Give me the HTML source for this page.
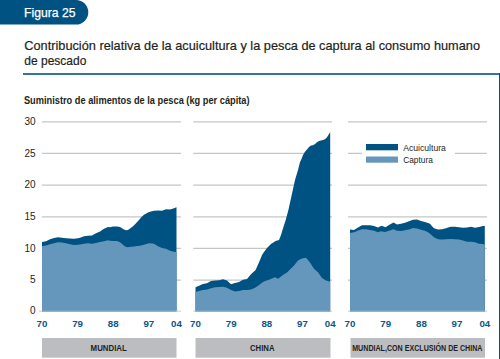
<!DOCTYPE html>
<html><head><meta charset="utf-8">
<style>
html,body{margin:0;padding:0;background:#fff;}
body{width:500px;height:359px;overflow:hidden;position:relative;font-family:"Liberation Sans",sans-serif;}
svg{position:absolute;left:0;top:0;}
.yl{font-size:10px;fill:#231f20;}
.xl{font-size:9.9px;font-weight:bold;fill:#0b5688;}
.bl{font-size:8.8px;font-weight:bold;fill:#231f20;}
.lg{font-size:9px;fill:#231f20;}
.t1{font-size:12.6px;fill:#231f20;stroke:#231f20;stroke-width:0.2px;}
.st{font-size:10px;font-weight:bold;fill:#231f20;}
.fig{font-size:12.1px;fill:#fff;stroke:#fff;stroke-width:0.25px;}
</style></head><body>
<svg width="500" height="359" viewBox="0 0 500 359">
<path d="M0,0 H76 A12.3,12.3 0 0 1 88.3,12.3 A12.3,12.3 0 0 1 76,24.6 H0 Z" fill="#005282"/>
<text x="24.1" y="16.5" class="fig" textLength="51.4" lengthAdjust="spacingAndGlyphs">Figura 25</text>
<text x="24.3" y="49.8" class="t1" textLength="455.7" lengthAdjust="spacingAndGlyphs">Contribución relativa de la acuicultura y la pesca de captura al consumo humano</text>
<text x="24.3" y="65.4" class="t1" textLength="62" lengthAdjust="spacingAndGlyphs">de pescado</text>
<rect x="23" y="73" width="477" height="2" fill="#34769e"/>
<rect x="499" y="73" width="1" height="286" fill="#005282"/>
<text x="23.9" y="103.6" class="st" textLength="225.7" lengthAdjust="spacingAndGlyphs">Suministro de alimentos de la pesca (kg per cápita)</text>
<line x1="42.0" y1="280.2" x2="181.0" y2="280.2" stroke="#c6c6c6" stroke-width="1.2"/>
<line x1="42.0" y1="248.4" x2="181.0" y2="248.4" stroke="#c6c6c6" stroke-width="1.2"/>
<line x1="42.0" y1="216.8" x2="181.0" y2="216.8" stroke="#c6c6c6" stroke-width="1.2"/>
<line x1="42.0" y1="185.2" x2="181.0" y2="185.2" stroke="#c6c6c6" stroke-width="1.2"/>
<line x1="42.0" y1="153.4" x2="181.0" y2="153.4" stroke="#c6c6c6" stroke-width="1.2"/>
<line x1="42.0" y1="121.8" x2="181.0" y2="121.8" stroke="#c6c6c6" stroke-width="1.2"/>
<line x1="193.3" y1="280.2" x2="332.0" y2="280.2" stroke="#c6c6c6" stroke-width="1.2"/>
<line x1="193.3" y1="248.4" x2="332.0" y2="248.4" stroke="#c6c6c6" stroke-width="1.2"/>
<line x1="193.3" y1="216.8" x2="332.0" y2="216.8" stroke="#c6c6c6" stroke-width="1.2"/>
<line x1="193.3" y1="185.2" x2="332.0" y2="185.2" stroke="#c6c6c6" stroke-width="1.2"/>
<line x1="193.3" y1="153.4" x2="332.0" y2="153.4" stroke="#c6c6c6" stroke-width="1.2"/>
<line x1="193.3" y1="121.8" x2="332.0" y2="121.8" stroke="#c6c6c6" stroke-width="1.2"/>
<line x1="348.0" y1="280.2" x2="487.0" y2="280.2" stroke="#c6c6c6" stroke-width="1.2"/>
<line x1="348.0" y1="248.4" x2="487.0" y2="248.4" stroke="#c6c6c6" stroke-width="1.2"/>
<line x1="348.0" y1="216.8" x2="487.0" y2="216.8" stroke="#c6c6c6" stroke-width="1.2"/>
<line x1="348.0" y1="185.2" x2="487.0" y2="185.2" stroke="#c6c6c6" stroke-width="1.2"/>
<line x1="348.0" y1="153.4" x2="487.0" y2="153.4" stroke="#c6c6c6" stroke-width="1.2"/>
<line x1="348.0" y1="121.8" x2="487.0" y2="121.8" stroke="#c6c6c6" stroke-width="1.2"/>
<rect x="362" y="140" width="93" height="25" fill="#fff"/>
<path d="M42.00,311.50 L42.00,242.10 L46.00,241.25 L50.00,239.20 L54.00,237.90 L58.00,237.30 L62.00,237.70 L66.00,238.30 L70.00,238.60 L74.00,238.75 L78.00,238.30 L80.00,237.70 L84.00,236.25 L88.00,235.80 L92.00,235.40 L96.00,233.20 L100.00,231.50 L104.00,228.75 L108.00,227.10 L110.00,227.20 L113.00,226.50 L117.00,226.50 L120.00,226.90 L122.00,228.20 L124.00,229.60 L126.00,230.30 L128.00,230.10 L130.00,228.60 L133.00,226.20 L136.00,223.30 L139.00,219.90 L141.00,217.50 L144.00,214.75 L148.00,212.50 L150.00,211.70 L154.00,210.70 L158.00,210.40 L162.00,210.70 L166.00,209.30 L170.00,209.60 L174.00,208.20 L176.50,207.30 L176.50,311.50 Z" fill="#005282"/>
<path d="M42.00,311.50 L42.00,246.25 L46.00,245.40 L50.00,244.30 L54.00,243.20 L58.00,242.30 L62.00,242.50 L66.00,243.30 L70.00,244.30 L74.00,245.00 L78.00,244.80 L80.00,244.60 L84.00,243.75 L88.00,243.30 L92.00,243.75 L96.00,242.90 L100.00,242.10 L104.00,241.25 L108.00,240.20 L110.00,240.80 L113.00,241.10 L117.00,241.10 L120.00,242.30 L123.00,244.70 L125.00,246.40 L128.00,247.20 L131.00,246.70 L134.00,246.40 L137.00,246.00 L140.00,245.70 L144.00,244.75 L148.00,243.50 L150.00,243.30 L154.00,243.75 L158.00,246.25 L162.00,247.90 L166.00,248.75 L170.00,250.80 L174.00,251.70 L176.50,252.10 L176.50,311.50 Z" fill="#6497bb"/>
<line x1="39.0" y1="311.2" x2="181.0" y2="311.2" stroke="#a9c3d6" stroke-width="0.8"/>
<rect x="42.0" y="338" width="134.5" height="19.7" fill="#bcbdc0"/>
<path d="M195.50,311.50 L195.50,287.30 L199.00,285.80 L203.00,284.00 L207.00,283.20 L211.00,281.00 L215.00,280.40 L219.00,280.20 L223.00,279.30 L227.00,280.40 L231.00,284.30 L235.00,283.00 L239.00,282.00 L243.00,279.80 L247.00,278.90 L251.00,274.20 L255.60,270.00 L257.80,265.00 L260.00,260.00 L262.00,255.00 L264.00,252.00 L267.00,248.00 L271.00,244.00 L275.60,241.00 L279.00,240.00 L281.00,235.00 L282.50,230.00 L285.70,220.00 L288.40,210.00 L290.60,200.00 L292.80,190.00 L295.00,180.00 L298.00,170.00 L300.00,162.00 L301.30,159.50 L303.00,155.00 L305.00,151.70 L307.00,149.40 L309.00,147.00 L311.00,145.60 L313.00,145.20 L315.00,144.10 L317.00,142.20 L319.00,141.10 L321.00,140.60 L323.00,140.00 L325.00,139.20 L327.00,137.20 L329.00,133.90 L330.20,132.20 L330.20,311.50 Z" fill="#005282"/>
<path d="M195.50,311.50 L195.50,292.10 L199.00,291.00 L203.00,290.00 L207.00,289.60 L211.00,288.30 L215.00,287.30 L219.00,287.10 L223.00,286.80 L227.00,287.70 L231.00,290.00 L235.00,291.50 L239.00,290.90 L243.00,290.00 L247.00,290.00 L251.00,289.40 L255.00,287.70 L258.00,285.70 L261.00,283.60 L263.00,282.00 L266.00,280.80 L269.00,279.70 L272.00,278.40 L275.00,277.20 L278.00,278.70 L281.00,276.60 L284.00,274.20 L287.00,272.60 L290.00,269.50 L294.00,265.60 L298.00,260.40 L302.00,258.40 L306.00,257.70 L310.00,262.50 L314.00,268.80 L318.00,272.30 L322.00,277.90 L326.00,280.40 L330.20,281.80 L330.20,311.50 Z" fill="#6497bb"/>
<line x1="193.3" y1="311.2" x2="332.0" y2="311.2" stroke="#a9c3d6" stroke-width="0.8"/>
<rect x="195.5" y="338" width="135.0" height="19.7" fill="#bcbdc0"/>
<path d="M350.00,311.50 L350.00,229.50 L354.00,230.00 L358.00,227.50 L362.00,225.20 L366.00,225.20 L370.00,225.20 L374.00,226.00 L378.00,227.50 L381.50,225.80 L385.50,227.30 L389.00,224.90 L393.50,222.40 L397.00,224.50 L401.00,223.80 L405.00,222.70 L409.00,221.20 L413.00,219.70 L417.00,219.50 L421.00,221.00 L425.00,222.00 L428.00,222.90 L430.00,223.75 L432.00,226.25 L434.00,228.30 L438.00,229.60 L442.00,229.20 L446.00,228.30 L448.00,227.50 L451.00,226.70 L455.00,226.70 L459.00,227.20 L463.00,227.80 L467.00,227.40 L471.00,226.70 L475.00,227.80 L479.00,227.00 L483.00,226.10 L484.80,225.90 L484.80,311.50 Z" fill="#005282"/>
<path d="M350.00,311.50 L350.00,233.00 L355.00,232.00 L358.00,230.50 L362.00,229.30 L366.00,229.30 L370.00,230.00 L374.00,230.80 L378.00,232.20 L381.00,231.20 L385.00,232.00 L389.00,230.75 L393.50,229.30 L397.00,230.75 L401.00,231.00 L405.00,230.20 L409.00,229.50 L413.00,228.00 L417.00,228.50 L421.00,229.70 L425.00,230.75 L428.00,232.30 L430.00,233.75 L434.00,237.30 L438.00,239.20 L442.00,239.60 L446.00,239.20 L451.00,238.90 L455.00,239.20 L459.00,239.40 L463.00,240.60 L467.00,241.70 L471.00,241.70 L475.00,242.20 L479.00,243.70 L483.00,244.10 L484.80,244.80 L484.80,311.50 Z" fill="#6497bb"/>
<line x1="348.0" y1="311.2" x2="487.0" y2="311.2" stroke="#a9c3d6" stroke-width="0.8"/>
<rect x="350.5" y="338" width="134.5" height="19.7" fill="#bcbdc0"/>
<rect x="366" y="144" width="32" height="6.3" fill="#005282"/>
<rect x="366" y="156.5" width="32" height="6.2" fill="#6497bb"/>
<text x="35.5" y="313.9" text-anchor="end" class="yl">0</text><text x="35.5" y="283.4" text-anchor="end" class="yl">5</text><text x="35.5" y="251.6" text-anchor="end" class="yl">10</text><text x="35.5" y="219.9" text-anchor="end" class="yl">15</text><text x="35.5" y="188.4" text-anchor="end" class="yl">20</text><text x="35.5" y="156.6" text-anchor="end" class="yl">25</text><text x="35.5" y="124.9" text-anchor="end" class="yl">30</text>
<text x="42.0" y="326.8" text-anchor="middle" class="xl" textLength="10.8" lengthAdjust="spacingAndGlyphs">70</text><text x="77.6" y="326.8" text-anchor="middle" class="xl" textLength="10.8" lengthAdjust="spacingAndGlyphs">79</text><text x="113.2" y="326.8" text-anchor="middle" class="xl" textLength="10.8" lengthAdjust="spacingAndGlyphs">88</text><text x="148.8" y="326.8" text-anchor="middle" class="xl" textLength="10.8" lengthAdjust="spacingAndGlyphs">97</text><text x="176.5" y="326.8" text-anchor="middle" class="xl" textLength="10.8" lengthAdjust="spacingAndGlyphs">04</text><text x="195.5" y="326.8" text-anchor="middle" class="xl" textLength="10.8" lengthAdjust="spacingAndGlyphs">70</text><text x="231.2" y="326.8" text-anchor="middle" class="xl" textLength="10.8" lengthAdjust="spacingAndGlyphs">79</text><text x="266.8" y="326.8" text-anchor="middle" class="xl" textLength="10.8" lengthAdjust="spacingAndGlyphs">88</text><text x="302.5" y="326.8" text-anchor="middle" class="xl" textLength="10.8" lengthAdjust="spacingAndGlyphs">97</text><text x="330.2" y="326.8" text-anchor="middle" class="xl" textLength="10.8" lengthAdjust="spacingAndGlyphs">04</text><text x="350.0" y="326.8" text-anchor="middle" class="xl" textLength="10.8" lengthAdjust="spacingAndGlyphs">70</text><text x="385.7" y="326.8" text-anchor="middle" class="xl" textLength="10.8" lengthAdjust="spacingAndGlyphs">79</text><text x="421.4" y="326.8" text-anchor="middle" class="xl" textLength="10.8" lengthAdjust="spacingAndGlyphs">88</text><text x="457.0" y="326.8" text-anchor="middle" class="xl" textLength="10.8" lengthAdjust="spacingAndGlyphs">97</text><text x="484.8" y="326.8" text-anchor="middle" class="xl" textLength="10.8" lengthAdjust="spacingAndGlyphs">04</text>
<text x="90.6" y="351.4" class="bl" textLength="36.2" lengthAdjust="spacingAndGlyphs">MUNDIAL</text>
<text x="250" y="351.4" class="bl" textLength="24.5" lengthAdjust="spacingAndGlyphs">CHINA</text>
<text x="352.2" y="351.4" class="bl" textLength="130.3" lengthAdjust="spacingAndGlyphs">MUNDIAL,CON EXCLUSIÓN DE CHINA</text>
<text x="403.2" y="151" class="lg" textLength="42.7" lengthAdjust="spacingAndGlyphs">Acuicultura</text>
<text x="403.2" y="162.6" class="lg" textLength="29.7" lengthAdjust="spacingAndGlyphs">Captura</text>
</svg>
</body></html>
